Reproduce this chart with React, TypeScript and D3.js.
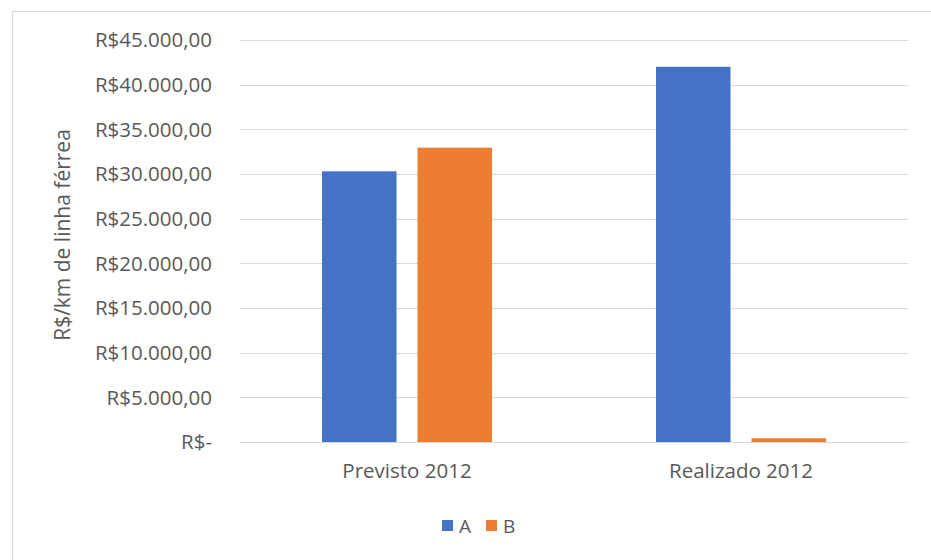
import React from "react";
import * as d3 from "d3";

const categories = ["Previsto 2012", "Realizado 2012"];
const seriesNames = ["A", "B"];
const seriesA = [30300, 42000];
const seriesB = [32950, 420];
const yTicks = [0, 5000, 10000, 15000, 20000, 25000, 30000, 35000, 40000, 45000];
const yTitle = "R$/km de linha férrea";

const W = 931;
const H = 560;
const colors = ["#4472C4", "#ED7D31"];
const FONT = "'Open Sans', 'Noto Sans', 'DejaVu Sans', sans-serif";

function brl(v: number): string {
  if (v === 0) return "R$-";
  const fmt = d3.format(",.2f")(v); // 45,000.00
  return "R$" + fmt.replace(/,/g, "#").replace(".", ",").replace(/#/g, ".");
}

export default function App() {
  const left = 240;
  const right = 908;
  const top = 40;
  const bottom = 442;

  const y = d3.scaleLinear().domain([0, 45000]).range([bottom, top]);
  const x0 = d3.scaleBand<string>().domain(categories).range([left, right]).padding(0);
  const inner = 170;
  const x1 = d3
    .scaleBand<string>()
    .domain(seriesNames)
    .range([(x0.bandwidth() - inner) / 2, (x0.bandwidth() + inner) / 2])
    .paddingInner(0.22)
    .paddingOuter(0);

  const data = categories.map((c, i) => ({ cat: c, values: [seriesA[i], seriesB[i]] }));

  return (
    <svg
      width={W}
      height={H}
      style={{ position: "absolute", left: 0, top: 0, background: "#fff" }}
      fontFamily={FONT}
    >
      <rect x={0} y={0} width={W} height={H} fill="#fff" />
      <rect x={12.5} y={11.5} width={W + 20} height={H + 20} fill="none" stroke="#D9D9D9" strokeWidth={1} />

      {yTicks.map((t) => (
        <g key={t}>
          <line x1={left} x2={right} y1={Math.round(y(t)) + 0.5} y2={Math.round(y(t)) + 0.5} stroke="#D9D9D9" strokeWidth={1} />
          <text x={212} y={y(t)} dy="0.35em" textAnchor="end" fontSize={20.5} fill="#595959">
            {brl(t)}
          </text>
        </g>
      ))}

      {data.map((d) => (
        <g key={d.cat} transform={`translate(${x0(d.cat)},0)`}>
          {d.values.map((v, j) => (
            <rect
              key={j}
              x={x1(seriesNames[j])}
              y={y(v)}
              width={x1.bandwidth()}
              height={y(0) - y(v)}
              fill={colors[j]}
            />
          ))}
          <text x={x0.bandwidth() / 2} y={471} dy="0.35em" textAnchor="middle" fontSize={20.5} fill="#595959">
            {d.cat}
          </text>
        </g>
      ))}

      <text
        transform={`translate(63,${(top + bottom) / 2 - 6}) rotate(-90)`}
        textAnchor="middle"
        dy="0.35em"
        fontSize={21}
        fill="#595959"
      >
        {yTitle}
      </text>

      {seriesNames.map((s, i) => (
        <g key={s} transform={`translate(${442 + i * 44},526)`}>
          <rect x={0} y={-6} width={11} height={11} fill={colors[i]} />
          <text x={17} y={0} dy="0.35em" fontSize={19} fill="#595959">
            {s}
          </text>
        </g>
      ))}
    </svg>
  );
}
